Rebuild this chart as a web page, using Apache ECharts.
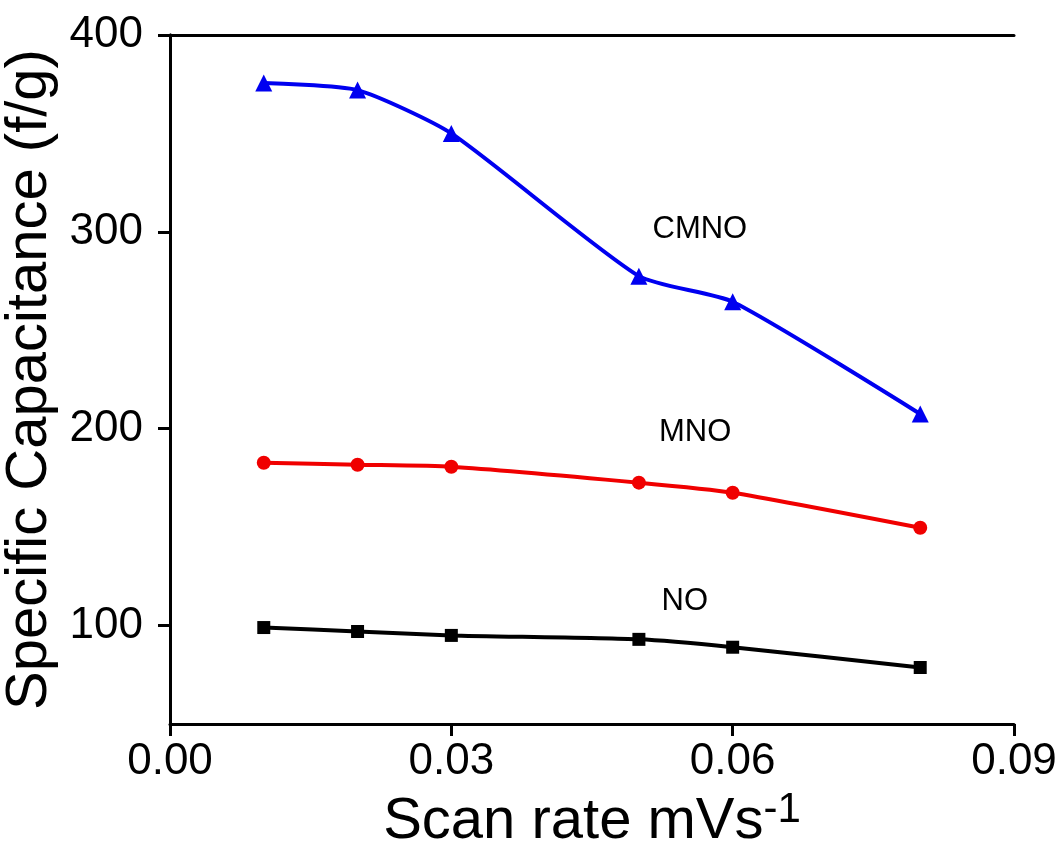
<!DOCTYPE html>
<html lang="en">
<head>
	<meta charset="UTF-8">
	<title>Specific Capacitance vs Scan rate</title>
	<style type="text/css">
		html, body { margin: 0; padding: 0; background: #fff; }
		#a { width: 1063px; height: 857px; }
	</style>
</head>
<body>
	<div id="a"></div>
	<script type="text/javascript" src="https://cdn.jsdelivr.net/npm/echarts@6/dist/echarts.min.js"></script>
	<script type="text/javascript">
		// scan rates (x)
		var scanRate = [0.01, 0.02, 0.03, 0.05, 0.06, 0.08];
		// specific capacitance for each sample
		var cmno = [375.6, 372, 350, 277.5, 264.5, 207.5];
		var mno = [182.7, 181.7, 180.7, 172.6, 167.5, 149.7];
		var no = [99, 97, 95, 93, 89, 78.7];
		// y tick labels
		var yTicks = [100, 200, 300, 400];
		// text labels beside the curves, [x, y, text]
		var tags = [[0.0565, 301, 'CMNO'], [0.056, 198, 'MNO'], [0.0549, 112, 'NO']];

		var font = '"Liberation Sans", Arial, sans-serif';

		function pairs(ys) {
			var out = [];
			for (var i = 0; i < scanRate.length; i++) {
				out.push([scanRate[i], ys[i]]);
			}
			return out;
		}
		function tag(i) {
			return {
				symbol: 'rect',
				symbolSize: 0,
				label: { show: true, position: 'inside', color: '#000', fontSize: 31, fontFamily: font },
				data: [{ coord: [tags[i][0], tags[i][1]], value: tags[i][2] }]
			};
		}

		var myChart = echarts.init(document.getElementById('a'));
		var axisStyle = { lineStyle: { color: '#000', width: 3 } };
		var option = {
			animation: false,
			grid: { left: 170, right: 49, top: 35, bottom: 133, containLabel: false, outerBoundsMode: 'none' },
			xAxis: [{
				type: 'value',
				min: 0, max: 0.09, interval: 0.03,
				axisLine: axisStyle,
				axisTick: { show: true, inside: false, length: 12, lineStyle: { color: '#000', width: 3 } },
				splitLine: { show: false },
				axisLabel: {
					margin: 16, color: '#000', fontSize: 44, fontFamily: font,
					formatter: function (v) { return v.toFixed(2); }
				},
				name: '{n|Scan rate mVs}{s|-1}',
				nameLocation: 'middle',
				nameGap: 65,
				nameTextStyle: {
					rich: {
						n: { fontSize: 58, fontFamily: font, color: '#000', verticalAlign: 'bottom', lineHeight: 62 },
						s: { fontSize: 42, fontFamily: font, color: '#000', verticalAlign: 'top', lineHeight: 62, padding: [0, 0, 24, 0] }
					}
				}
			}, {
				type: 'value', position: 'top',
				min: 0, max: 0.09,
				axisLine: axisStyle, axisTick: { show: false }, axisLabel: { show: false }, splitLine: { show: false }
			}],
			yAxis: [{
				type: 'value',
				min: 50, max: 400,
				axisLine: axisStyle,
				axisTick: { show: true, inside: false, length: 12, customValues: yTicks, lineStyle: { color: '#000', width: 3 } },
				splitLine: { show: false },
				axisLabel: {
					margin: 27, color: '#000', fontSize: 44, fontFamily: font,
					customValues: yTicks
				},
				name: 'Specific Capacitance (f/g)',
				nameLocation: 'middle',
				nameGap: 91,
				nameTextStyle: { fontSize: 58, fontFamily: font, color: '#000' }
			}, {
				type: 'value', position: 'right',
				min: 50, max: 400,
				axisLine: axisStyle, axisTick: { show: false }, axisLabel: { show: false }, splitLine: { show: false }
			}],
			series: [{
				name: 'CMNO',
				type: 'line',
				smooth: 0.2,
				data: pairs(cmno),
				symbol: 'triangle', symbolSize: 17,
				itemStyle: { color: '#0000F0' },
				lineStyle: { color: '#0000F0', width: 4 },
				markPoint: tag(0)
			}, {
				name: 'MNO',
				type: 'line',
				smooth: 0.2,
				data: pairs(mno),
				symbol: 'circle', symbolSize: 14,
				itemStyle: { color: '#F00000' },
				lineStyle: { color: '#F00000', width: 4 },
				markPoint: tag(1)
			}, {
				name: 'NO',
				type: 'line',
				smooth: 0.2,
				data: pairs(no),
				symbol: 'rect', symbolSize: 13,
				itemStyle: { color: '#000' },
				lineStyle: { color: '#000', width: 4 },
				markPoint: tag(2)
			}]
		};
		myChart.setOption(option);
	</script>
</body>
</html>
